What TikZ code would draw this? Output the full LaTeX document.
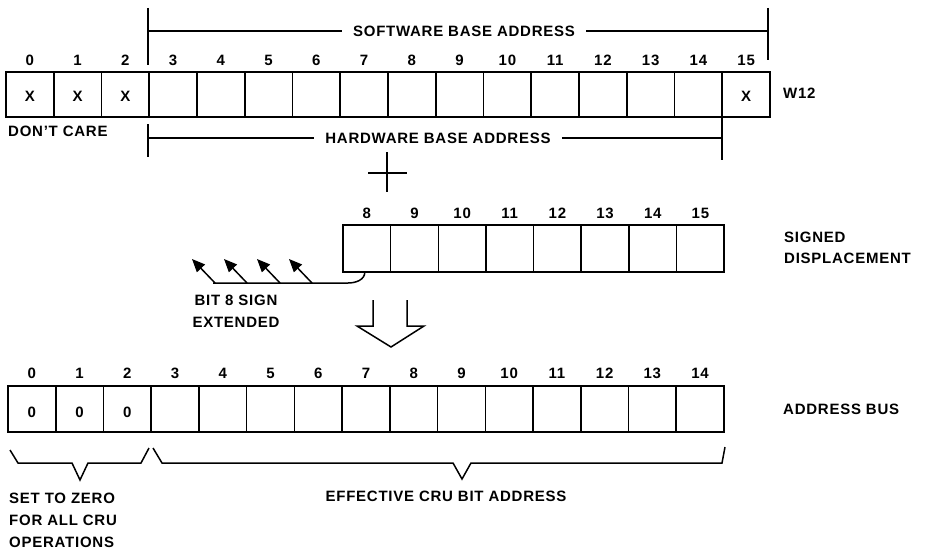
\documentclass[tikz,border=0pt]{standalone}
\usepackage{fontspec}
\setmainfont{Liberation Sans}[LetterSpace=5]
\usetikzlibrary{arrows.meta}
\newcommand\labfont{\bfseries\fontsize{15}{18}\selectfont}
\newcommand\labfontA{\bfseries\fontsize{15}{21}\selectfont}
\newcommand\labfontB{\bfseries\fontsize{15}{22}\selectfont}
\begin{document}
\begin{tikzpicture}[x=1pt,y=-1pt,
  cell/.style={draw, line width=1.6pt, minimum width=47.75pt, minimum height=45pt,
               inner sep=0pt, outer sep=0pt, anchor=north west},
  num/.style={font=\labfont, inner sep=1pt},
  lab/.style={font=\labfont, inner sep=1pt},
  brk/.style={line width=1.3pt},
  sgn/.style={line width=1.5pt, -{Triangle[length=13pt,width=11pt]}},
  bus/.style={line width=1.5pt, line join=miter}]
\useasboundingbox (0,0) rectangle (925,551);

% ---------- W12 register ----------
\foreach \i in {0,...,15} {
  \node[cell] (w\i) at ({6+47.75*\i},72) {};
  \node[num] (wn\i) at ([yshift=12pt]w\i.north) {\i};
}
\foreach \i in {0,1,2,15} {
  \node[lab] (wx\i) at ([yshift=-2pt]w\i.center) {X};
}
\node[lab, anchor=west] (w12) at (782,93) {W12};
\node[lab, anchor=west] (dc) at (7,131) {DON’T CARE};

% software base address bracket
\node[lab, inner xsep=11pt] (sw) at (464,31) {SOFTWARE BASE ADDRESS};
\coordinate (swl) at (148,31);
\coordinate (swr) at (768,31);
\draw[brk] (148,8) -- (148,65);
\draw[brk] (768,8) -- (768,60);
\draw[brk] (swl) -- (sw.west);
\draw[brk] (sw.east) -- (swr);

% hardware base address bracket
\node[lab, inner xsep=11pt] (hw) at (438,138) {HARDWARE BASE ADDRESS};
\coordinate (hwl) at (148,138);
\coordinate (hwr) at (722,138);
\draw[brk] (148,124) -- (148,157);
\draw[brk] (722,118) -- (722,160);
\draw[brk] (hwl) -- (hw.west);
\draw[brk] (hw.east) -- (hwr);

% plus sign
\draw[line width=1.6pt] (387,152) -- (387,192);
\draw[line width=1.6pt] (368,173) -- (407,173);

% ---------- signed displacement ----------
\foreach \b in {8,...,15} {
  \node[cell, minimum width=47.65pt, minimum height=47pt] (s\b) at ({343+47.65*(\b-8)},225) {};
  \node[num] (sn\b) at ([yshift=12pt]s\b.north) {\b};
}
\node[lab, anchor=west, align=left, font=\labfontA] (sd) at (783,247.5)
  {SIGNED\\DISPLACEMENT};

% sign extension
\coordinate (ext) at (213,283);
\draw[line width=1.5pt] ([xshift=-2pt]s8.south) to[out=-90,in=0] (348,283) -- (ext);
\coordinate (b1) at (215,283); \coordinate (t1) at (192,259);
\coordinate (b2) at (247,283); \coordinate (t2) at (224,259);
\coordinate (b3) at (280,283); \coordinate (t3) at (257,259);
\coordinate (b4) at (312,283); \coordinate (t4) at (289,259);
\draw[sgn] (b1) -- (t1);
\draw[sgn] (b2) -- (t2);
\draw[sgn] (b3) -- (t3);
\draw[sgn] (b4) -- (t4);
\node[lab, align=center, font=\labfontB] (bse) at (236,311)
  {BIT 8 SIGN\\EXTENDED};

% hollow arrow
\draw[line width=1.5pt, line join=miter]
  (373,300) -- (373,326) -- (357,326) -- (391,347) -- (424,326) -- (407,326) -- (407,300);

% ---------- address bus ----------
\foreach \i in {0,...,14} {
  \node[cell, minimum width=47.73pt, minimum height=46pt] (a\i) at ({8+47.73*\i},386) {};
  \node[num] (an\i) at ([yshift=13pt]a\i.north) {\i};
}
\foreach \i in {0,1,2} {
  \node[lab] (az\i) at ([yshift=-3pt]a\i.center) {0};
}
\node[lab, anchor=west] (ab) at (782,409) {ADDRESS BUS};

% braces
\draw[bus] (10,450) -- (18,463) -- (72,463) -- (80,480) -- (88,463) -- (141,463) -- (149,448);
\draw[bus] (153,448) -- (162,463) -- (453,463) -- (462,479) -- (471,463) -- (722,463) -- (725,447);

\node[lab, anchor=west, align=left, font=\labfontB] (stz) at (8,520)
  {SET TO ZERO\\FOR ALL CRU\\OPERATIONS};
\node[lab] (ecb) at (446,496) {EFFECTIVE CRU BIT ADDRESS};
\end{tikzpicture}
\end{document}
